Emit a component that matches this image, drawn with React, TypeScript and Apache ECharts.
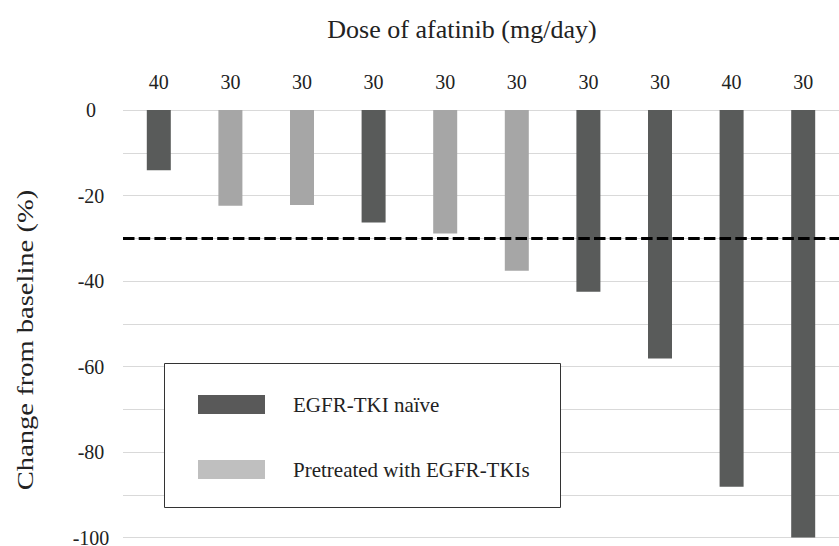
import React, { useEffect, useRef } from "react";
import * as echarts from "echarts";

const patients = ["P1", "P2", "P3", "P4", "P5", "P6", "P7", "P8", "P9", "P10"];
const doses = ["40", "30", "30", "30", "30", "30", "30", "30", "40", "30"];
const naive = [-14.1, "-", "-", -26.3, "-", "-", -42.5, -58.1, -88.1, -100];
const pretreated = ["-", -22.4, -22.2, "-", -28.9, -37.6, "-", "-", "-", "-"];
const yTicks = [0, -20, -40, -60, -80, -100];
const threshold = -30;

const FONT = "Liberation Serif, Times New Roman, Times, serif";

export default function App() {
  const ref = useRef<HTMLDivElement>(null);
  useEffect(() => {
    document.body.style.margin = "0";
    document.documentElement.style.margin = "0";
    const chart = echarts.init(ref.current!, null, { renderer: "svg" });
    chart.setOption({
      animation: false,
      backgroundColor: "#fff",
      textStyle: { fontFamily: FONT },
      grid: {
        left: 123,
        right: 0,
        top: 110,
        bottom: 8.5,
        containLabel: false,
        outerBoundsMode: "none",
      },
      xAxis: {
        type: "category",
        position: "top",
        data: patients,
        axisLine: { show: false },
        axisTick: { show: false },
        axisLabel: {
          margin: 18,
          fontSize: 20,
          color: "#222",
          fontFamily: FONT,
          formatter: (_v: string, i: number) => doses[i],
        },
      },
      yAxis: {
        type: "value",
        min: -100,
        max: 0,
        interval: 10,
        axisLine: { show: false },
        axisTick: { show: false },
        splitLine: { lineStyle: { color: "#d9d9d9", width: 1 } },
        axisLabel: {
          margin: 32,
          align: "center",
          fontSize: 20,
          lineHeight: 14,
          color: "#222",
          fontFamily: FONT,
          formatter: (v: number) => (yTicks.includes(v) ? String(v) : ""),
        },
      },
      legend: {
        orient: "vertical",
        left: 198,
        top: 394,
        padding: 0,
        itemWidth: 67,
        itemHeight: 19,
        itemGap: 44,
        icon: "rect",
        z: 10,
        textStyle: {
          fontSize: 21,
          lineHeight: 19,
          color: "#222",
          fontFamily: FONT,
          padding: [0, 0, 0, 23],
        },
        data: [
          { name: "EGFR-TKI naïve", itemStyle: { color: "#595959" } },
          { name: "Pretreated with EGFR-TKIs", itemStyle: { color: "#bfbfbf" } },
        ],
      },
      graphic: [
        {
          type: "rect",
          z: 5,
          shape: { x: 164.5, y: 363.5, width: 396, height: 144 },
          style: { fill: "#fff", stroke: "#333", lineWidth: 1 },
        },
        {
          type: "text",
          x: 462,
          y: 29,
          style: {
            text: "Dose of afatinib (mg/day)",
            fontSize: 26,
            fontFamily: FONT,
            fill: "#222",
            align: "center",
            verticalAlign: "middle",
          },
        },
        {
          type: "text",
          x: 25,
          y: 340,
          rotation: Math.PI / 2,
          scaleX: 1.19,
          style: {
            text: "Change from baseline (%)",
            fontSize: 24,
            fontFamily: FONT,
            fill: "#222",
            align: "center",
            verticalAlign: "middle",
          },
        },
      ],
      series: [
        {
          name: "EGFR-TKI naïve",
          type: "bar",
          data: naive,
          barWidth: 24,
          barGap: "-100%",
          itemStyle: { color: "#595b5a" },
          markLine: {
            silent: true,
            symbol: "none",
            label: { show: false },
            lineStyle: { color: "#000", type: [11.5, 4.2], width: 3 },
            data: [{ yAxis: threshold }],
            z: 4,
          },
        },
        {
          name: "Pretreated with EGFR-TKIs",
          type: "bar",
          data: pretreated,
          barWidth: 24,
          barGap: "-100%",
          itemStyle: { color: "#a6a6a6" },
        },
      ],
    });
    return () => chart.dispose();
  }, []);
  return <div ref={ref} style={{ width: 839, height: 546 }} />;
}
